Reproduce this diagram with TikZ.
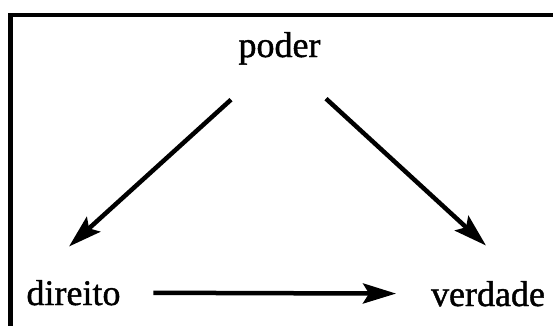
\documentclass[tikz,border=0pt]{standalone}
\usepackage{fontspec}
\setmainfont[FakeBold=1.2]{Liberation Serif}
\usetikzlibrary{arrows.meta}
\begin{document}
\begin{tikzpicture}[x=1pt,y=1pt,
  word/.style={inner sep=0pt, outer sep=0pt, anchor=base,
    font=\fontsize{36}{40}\selectfont},
  arr/.style={line width=4.5pt, -{Stealth[length=33pt,width=20pt,inset=6pt]}}]
  % page and frame (right and bottom edges run off the page)
  \useasboundingbox (0,0) rectangle (553,325);
  \clip (0,0) rectangle (553,325);
  \fill[white] (0,0) rectangle (553,325);
  \draw[line width=4.5pt] (10.5,-20) rectangle (600,310);
  % terms
  \node[word] (poder) at (279.5,268) {poder};
  \node[word] (direito) at (73.5,20) {direito};
  \node[word] (verdade) at (488,19) {verdade};
  % relations
  \draw[arr] ([xshift=-48.5pt,yshift=-35pt]poder.south) -- ([xshift=-4.5pt,yshift=33.5pt]direito.north);
  \draw[arr] ([xshift=46.5pt,yshift=-34pt]poder.south) -- ([xshift=-2pt,yshift=35.5pt]verdade.north);
  \draw[arr, shorten <=33pt, shorten >=35pt] (direito.east) -- (verdade.west);
\end{tikzpicture}
\end{document}
